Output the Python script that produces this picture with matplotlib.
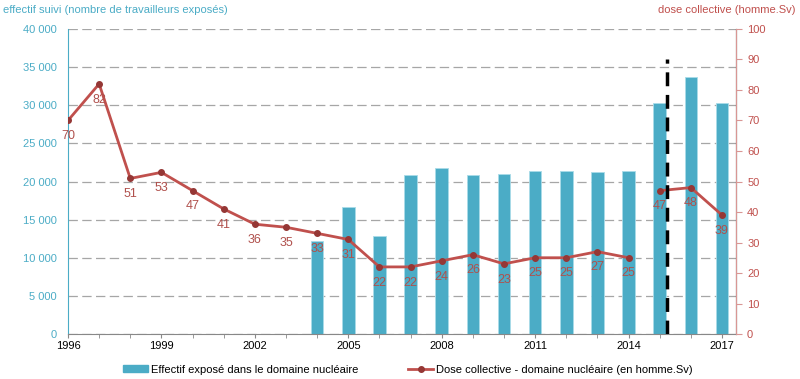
import numpy as np
import matplotlib.pyplot as plt

plt.rcParams['font.family'] = ['Liberation Sans', 'DejaVu Sans']

# Data
years = list(range(1996, 2018))
effectif = [np.nan] * 8 + [12250, 16650, 12900, 20900, 21800, 20850, 20950,
                           21400, 21400, 21300, 21400, 30330, 33650, 30330]
dose = [70, 82, 51, 53, 47, 41, 36, 35, 33, 31, 22, 22, 24, 26, 23, 25, 25,
        27, 25, 47, 48, 39]
break_year = 2015  # changement de périmètre

blue = '#4bacc6'
red = '#c0504d'
dark_red = '#953735'
label_red = '#b0504c'

fig = plt.figure(figsize=(8, 3.79), dpi=100)
ax = fig.add_axes([0.085, 0.1187, 0.835, 0.8048])
ax2 = ax.twinx()

ax.bar(years, effectif, width=0.4, color=blue, edgecolor='#a9dbe8', linewidth=0.6, zorder=2)

ax.set_xlim(1996, 2017.45)
ax.set_ylim(0, 40000)
ax.set_yticks(range(0, 40001, 5000))
ax.set_yticklabels([f"{v:,}".replace(',', ' ') for v in range(0, 40001, 5000)])
ax.yaxis.grid(True, linestyle=(0, (7.5, 3.5)), color='#a6a6a6', linewidth=0.9, zorder=0)
ax.set_axisbelow(True)
ax.set_xticks(years, minor=True)
ax.set_xticks(years[::3])
ax.tick_params(axis='x', which='both', length=3, color='#888888', labelsize=8, pad=2)
ax.tick_params(axis='y', length=0, labelsize=8, labelcolor=blue, pad=8)

for s in ['top']:
    ax.spines[s].set_visible(False)
    ax2.spines[s].set_visible(False)
ax.spines['left'].set_color(blue)
ax.spines['bottom'].set_color('#888888')
ax2.spines['left'].set_visible(False)
ax2.spines['bottom'].set_visible(False)
ax2.spines['right'].set_color('#d99694')

# Dose line, two segments (rupture after 2014)
i = years.index(break_year)
ax2.plot(years[:i], dose[:i], color=red, lw=2, marker='o', ms=4,
         mfc=dark_red, mec=dark_red, zorder=3)
ax2.plot(years[i:], dose[i:], color=red, lw=2, marker='o', ms=4,
         mfc=dark_red, mec=dark_red, zorder=3)
for x, v in zip(years, dose):
    ax2.annotate(f"{v:.0f}", (x, v), xytext=(0, -7), textcoords='offset points',
                 ha='center', va='top', fontsize=9, color=label_red)

ax2.plot([break_year + 0.23] * 2, [0, 90], color='black', lw=2.5,
         linestyle=(0, (4, 2.5)), zorder=4)

ax2.set_ylim(0, 100)
ax2.set_yticks(range(0, 101, 10))
ax2.tick_params(axis='y', length=4, color='#d99694', labelsize=8, labelcolor=red, pad=4)

fig.text(0.004, 0.973, "effectif suivi (nombre de travailleurs exposés)", fontsize=8,
         color=blue, ha='left', va='center')
fig.text(0.994, 0.973, "dose collective (homme.Sv)", fontsize=8,
         color=red, ha='right', va='center')

h1 = plt.Rectangle((0, 0), 1, 1, color=blue)
h2, = ax2.plot([], [], color=red, lw=2, marker='o', ms=4, mfc=dark_red, mec=dark_red)
fig.legend([h1, h2], ["Effectif exposé dans le domaine nucléaire",
                      "Dose collective - domaine nucléaire (en homme.Sv)"],
           loc='center', bbox_to_anchor=(0.51, 0.025), ncol=2, frameon=False,
           fontsize=8, handlelength=2.2, handleheight=0.5, columnspacing=4.5,
           handletextpad=0.3)

fig.savefig('out.png', dpi=100)
